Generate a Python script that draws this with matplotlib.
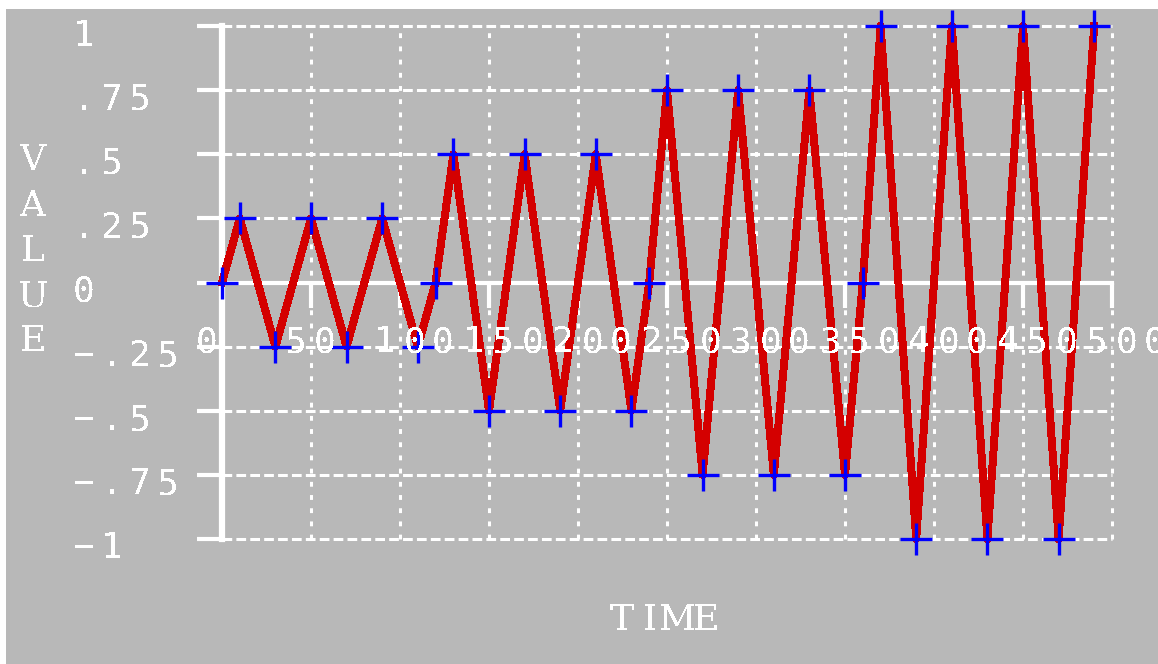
import matplotlib
matplotlib.use("Agg")
import matplotlib.pyplot as plt
from matplotlib.patches import Rectangle
from matplotlib.transforms import offset_copy, blended_transform_factory

# ---------- data ----------
time = [0, 10, 30, 50, 70, 90, 110, 120, 130, 150, 170, 190, 210, 230, 240,
        250, 270, 290, 310, 330, 350, 360, 370, 390, 410, 430, 450, 470, 490]
value = [0, 0.25, -0.25, 0.25, -0.25, 0.25, -0.25, 0, 0.5, -0.5, 0.5, -0.5, 0.5, -0.5, 0,
         0.75, -0.75, 0.75, -0.75, 0.75, -0.75, 0, 1, -1, 1, -1, 1, -1, 1]

x_ticks = [0, 50, 100, 150, 200, 250, 300, 350, 400, 450, 500]
x_tick_labels = ["0", "50", "100", "150", "200", "250", "300", "350", "400", "450", "500"]
y_ticks = [1, 0.75, 0.5, 0.25, 0, -0.25, -0.5, -0.75, -1]
y_tick_labels = ["1", ".75", ".5", ".25", "0", "−.25", "−.5", "−.75", "−1"]

# ---------- style ----------
W, H = 1158, 664
GRAY = "#B8B8B8"
RED = "#D40000"
BLUE = "#0000FF"
WHITE = "#FFFFFF"
MONO = "DejaVu Sans Mono"
SERIF = "DejaVu Serif"
FS = 26

plt.rcParams["lines.scale_dashes"] = False
plt.rcParams["text.antialiased"] = False

fig = plt.figure(figsize=(W / 100, H / 100), dpi=100, facecolor=WHITE)
fig.patches.append(Rectangle((6 / W, 0), 1, (H - 9) / H, transform=fig.transFigure,
                             facecolor=GRAY, edgecolor="none", zorder=-10))

ax = fig.add_axes([222 / W, 125 / H, 890 / W, 513 / H])
ax.set_facecolor("none")
ax.set_xlim(0, 500)
ax.set_ylim(-1, 1)

# dashed grid, including the top and right edges
for yv in y_ticks:
    if yv != 0:
        ax.axhline(yv, color=WHITE, lw=2.2, ls=(0, (7, 3)), clip_on=False, zorder=1)
for xv in x_ticks[1:]:
    ax.axvline(xv, color=WHITE, lw=2.2, ls=(0, (3.5, 6)), clip_on=False, zorder=1)

for side in ("top", "right"):
    ax.spines[side].set_visible(False)
ax.spines["bottom"].set_position(("data", 0))
ax.spines["bottom"].set_color(WHITE)
ax.spines["bottom"].set_linewidth(3)
ax.spines["left"].set_color(WHITE)
ax.spines["left"].set_linewidth(4.5)

ax.set_xticks(x_ticks)
ax.set_yticks(y_ticks)
ax.tick_params(axis="both", direction="out", length=18, width=3, colors=WHITE,
               labelbottom=False, labelleft=False)

# signal and sample markers
ax.plot(time, value, color=RED, lw=5, antialiased=False, clip_on=False, zorder=3)
ax.plot(time, value, ls="none", marker="+", ms=23, mew=2.4, color=BLUE,
        antialiased=False, clip_on=False, zorder=4)


def spaced(x, y, s, trans, dx0, dy, pitch, family=MONO):
    # one glyph per cell, wide fixed pitch
    for i, ch in enumerate(s):
        t = offset_copy(trans, fig=fig, x=dx0 + i * pitch, y=dy, units="dots")
        ax.text(x, y, ch, transform=t, ha="center", va="baseline",
                fontsize=FS, family=family, color=WHITE, clip_on=False, zorder=5)


for xv, lab in zip(x_ticks, x_tick_labels):
    spaced(xv, 0, lab, ax.transData, -15, -70, 29)

ytrans = blended_transform_factory(ax.transAxes, ax.transData)
for yv, lab in zip(y_ticks, y_tick_labels):
    spaced(0, yv, lab, ytrans, 84 - 222, -19.5, 28)

# axis titles
for i, ch in enumerate("VALUE"):
    cy = 157 + i * 45.2
    fig.text(33 / W, (H - cy - 13.5) / H, ch, ha="center", va="baseline",
             fontsize=FS, family=SERIF, color=WHITE)
for i, ch in enumerate("TIME"):
    cx = 622 + i * 28
    fig.text(cx / W, (H - 617 - 13.5) / H, ch, ha="center", va="baseline",
             fontsize=FS, family=SERIF, color=WHITE)

fig.savefig("out.png", dpi=100, facecolor=fig.get_facecolor())
